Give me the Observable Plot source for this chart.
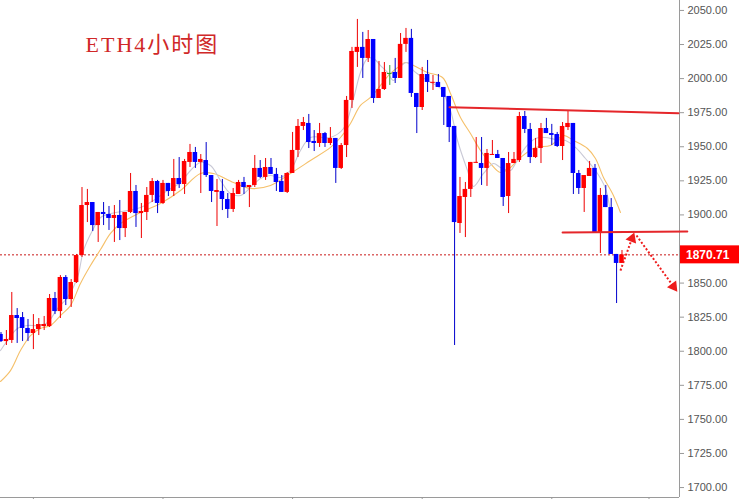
<!DOCTYPE html>
<html><head><meta charset="utf-8">
<script src="https://cdn.jsdelivr.net/npm/d3@7"></script>
<script src="https://cdn.jsdelivr.net/npm/@observablehq/plot@0.6"></script>
<style>
html,body{margin:0;padding:0;background:#fff;}
#chart svg{display:block;}
</style>
</head><body><div id="chart"></div>
<script>
const title = "ETH4小时图";

const open = [1812.3,1807.1,1807.9,1826.2,1824.7,1816.7,1813.0,1815.9,1818.1,1818.1,
1838.7,1829.1,1854.1,1837.9,1850.4,1870.2,1906.9,1909.1,1892.2,1901.8,
1900.3,1897.4,1899.6,1890.0,1901.8,1917.2,1901.0,1901.8,1914.3,1924.5,
1908.4,1923.1,1917.2,1926.7,1922.3,1938.5,1945.8,1938.5,1939.9,1928.9,
1916.5,1917.2,1911.3,1904.0,1915.0,1923.8,1920.1,1921.6,1934.1,1927.5,
1934.8,1929.7,1924.5,1916.5,1930.4,1947.3,1964.9,1967.1,1953.9,1952.4,
1959.7,1952.4,1956.1,1934.1,1950.9,1984.0,2019.2,2022.9,2014.8,2028.7,
1985.4,1992.0,2003.0,2004.5,2000.1,2025.1,2029.5,1989.1,1978.8,2003.0,
1996.6,1997.2,1993.5,1986.9,1964.9,1893.7,1912.8,1918.7,1937.9,1937.7,
1934.1,1943.7,1944.3,1941.4,1913.5,1937.7,1939.9,1972.2,1962.7,1942.1,
1948.7,1963.4,1959.7,1959.0,1950.2,1964.1,1967.1,1930.4,1919.4,1928.2,
1934.1,1887.1,1914.3,1905.4,1871.0,1864.4];

const high = [1813.7,1815.2,1843.1,1831.3,1828.4,1823.3,1826.9,1824.0,1825.5,1841.6,
1843.1,1855.5,1855.5,1852.6,1871.0,1920.1,1918.7,1909.1,1901.8,1909.1,
1906.2,1906.9,1910.6,1901.8,1930.4,1921.6,1908.4,1920.1,1926.7,1925.3,
1925.3,1923.1,1940.7,1942.1,1940.7,1951.7,1949.5,1944.3,1953.1,1928.9,
1926.0,1926.0,1915.7,1919.4,1925.3,1927.5,1921.6,1943.6,1939.9,1941.4,
1941.4,1934.1,1928.9,1931.1,1960.5,1970.0,1971.5,1973.7,1961.9,1967.1,
1960.5,1964.1,1956.1,1952.4,1986.9,2022.9,2043.4,2033.9,2035.3,2028.7,
2012.6,2011.8,2009.6,2014.8,2033.1,2036.8,2036.1,1989.1,2008.2,2013.3,
2002.3,2003.0,1993.5,1986.9,1964.9,1927.5,1923.8,1938.5,1956.8,1956.8,
1948.0,1954.6,1947.3,1941.4,1945.8,1945.8,1975.2,1975.9,1967.1,1956.1,
1967.1,1970.8,1966.4,1960.5,1967.8,1976.6,1967.1,1932.6,1928.9,1939.2,
1937.0,1919.4,1921.6,1912.0,1871.0,1873.9];

const low = [1806.4,1804.2,1805.7,1805.7,1807.1,1807.1,1801.2,1811.5,1815.2,1817.4,
1826.9,1824.0,1833.5,1832.1,1849.7,1868.8,1894.4,1887.8,1879.8,1892.2,
1888.6,1879.8,1881.2,1883.4,1901.0,1890.8,1882.7,1895.9,1909.1,1901.0,
1907.6,1913.5,1913.5,1919.4,1915.0,1934.8,1934.1,1915.7,1927.5,1909.1,
1891.5,1903.2,1897.4,1901.8,1915.0,1915.0,1905.4,1920.1,1926.7,1925.3,
1929.7,1917.2,1916.5,1915.7,1930.4,1942.1,1961.9,1948.7,1946.5,1949.5,
1949.5,1950.9,1923.1,1933.3,1942.1,1978.1,2008.2,2000.1,2011.8,1981.8,
1985.4,1991.3,1995.0,1996.4,2000.1,2019.2,1986.2,1959.7,1976.6,1989.8,
1991.3,1993.5,1965.6,1953.1,1804.2,1886.4,1883.4,1912.8,1937.7,1921.6,
1920.9,1943.7,1941.4,1906.2,1901.0,1937.7,1938.5,1959.7,1937.7,1941.4,
1937.7,1959.7,1950.9,1949.5,1939.9,1961.9,1915.0,1915.0,1901.8,1928.2,
1887.1,1871.7,1905.4,1871.0,1835.0,1864.4];

const close = [1807.1,1808.6,1826.2,1824.0,1816.7,1813.0,1815.9,1819.6,1819.6,1838.7,
1829.1,1854.1,1837.9,1850.4,1870.2,1906.9,1909.1,1892.2,1901.8,1900.3,
1897.4,1899.6,1890.0,1901.8,1917.2,1901.0,1902.5,1914.3,1924.5,1908.4,
1923.1,1917.2,1926.7,1922.3,1939.2,1945.8,1938.5,1940.7,1928.9,1917.2,
1917.9,1911.3,1904.0,1915.7,1923.8,1920.1,1921.6,1934.1,1927.5,1934.8,
1929.7,1923.8,1916.5,1930.4,1947.3,1964.9,1967.8,1953.1,1952.4,1959.7,
1952.4,1956.1,1934.1,1950.9,1984.0,2019.9,2022.9,2014.8,2028.7,1985.4,
1992.0,2004.5,2003.8,2000.1,2025.1,2029.5,1989.1,1978.8,2003.0,1997.2,
1997.2,1993.5,1986.2,1964.1,1894.4,1913.5,1918.7,1938.5,1938.5,1934.1,
1945.1,1944.3,1941.4,1912.8,1937.7,1940.7,1972.2,1962.7,1942.1,1948.7,
1963.4,1959.7,1958.3,1950.2,1964.9,1967.1,1930.4,1919.4,1928.9,1934.1,
1887.1,1914.3,1905.4,1871.0,1864.4,1870.71];

// index of the flat (doji) bar drawn in green in the reference
const greenDoji = 72;

// slow moving average (orange): bar index / price
const maSlowX = [-0.09,1.76,3.61,5.46,7.31,9.17,11.02,12.87,14.72,16.57,18.43,20.28,22.13,25.83,29.54,33.24,36.94,39.35,43.06,46.2,49.91,53.61,57.31,61.02,62.87,64.72,66.57,68.43,70.28,72.13,73.98,74.91,77.13,78.98,81.76,83.24,85.09,86.94,88.8,90.65,92.5,94.35,96.2,98.98,101.76,104.17,106.02,108.61,110.09,111.57,113.24,114.72];
const maSlowY = [1777.8,1785.8,1800.5,1811.5,1816.7,1818.9,1826.2,1833.5,1849.7,1862.9,1874.6,1886.4,1893.7,1901.8,1908.4,1917.9,1930.4,1930.4,1923.8,1919.4,1921.6,1930.4,1939.9,1949.5,1956.8,1967.1,1980.3,1986.2,1995.0,2003.8,2009.6,2011.8,2008.2,2004.5,2000.8,1989.1,1971.5,1959.7,1947.3,1937.7,1931.1,1934.8,1942.1,1949.5,1950.9,1958.3,1954.6,1948.7,1941.4,1927.5,1915.7,1901.8];

// fast moving average (grey)
const maFastX = [-0.09,1.2,3.06,4.91,6.76,8.61,10.46,12.31,14.17,15.28,16.94,18.43,20.28,23.43,25.83,28.24,30.83,33.24,35.09,36.94,38.8,40.65,42.5,44.35,46.2,48.06,49.91,51.76,53.61,55.46,57.31,61.02,63.43,65.28,66.57,67.87,68.98,70.28,71.57,72.69,73.98,75.28,76.39,78.98,81.39,83.24,84.54,86.39,87.5,89.35,91.2,92.5,94.35,95.28,97.13,98.98,100.83,102.69,104.54,106.39,108.24,110.09,111.94,113.24];
const maFastY = [1800.5,1807.9,1816.7,1818.9,1818.9,1821.1,1831.3,1839.4,1854.1,1873.9,1888.6,1898.1,1901.0,1903.2,1905.4,1910.6,1917.9,1923.8,1932.6,1938.5,1936.3,1925.3,1915.7,1914.3,1920.1,1926.7,1928.9,1927.5,1932.6,1947.3,1956.8,1956.8,1963.4,1985.4,2004.5,2014.8,2014.8,2009.6,2004.5,1998.6,2008.9,2011.8,2005.9,1998.6,1992.8,1976.6,1954.6,1932.6,1920.9,1930.4,1937.7,1934.8,1932.6,1937.7,1949.5,1956.1,1956.8,1955.3,1954.6,1949.5,1941.4,1932.6,1919.4,1890.0];

// drawn trend lines (bar index / price)
const resistanceX = [83.06, 125.46];
const resistanceY = [1979.0, 1974.6];
const supportX = [104.0, 127.1];
const supportY = [1887.1, 1887.8];
// dotted arrows: tail -> tip
const arrowX1 = [114.72, 117.69];
const arrowY1 = [1859.2, 1884.9];
const arrowX2 = [116.85, 124.54];
const arrowY2 = [1882.7, 1847.5];
const arrowAngle = [21, 144];

const yTicks = [1700,1725,1750,1775,1800,1825,1850,1900,1925,1950,1975,2000,2025,2050];
const xTicks = [6,30,54,78,102,120];
const xDomain = [-0.09, 125.65];
const yDomain = [1692.7, 2057.3];

const W = 739, H = 499;
const lastClose = close[close.length - 1];

const bars = open.map((o, i) => ({i, open: o, high: high[i], low: low[i], close: close[i]}));
const slow = maSlowX.map((x, k) => ({x, y: maSlowY[k]}));
const fast = maFastX.map((x, k) => ({x, y: maFastY[k]}));
const resistance = resistanceX.map((x, k) => ({x, y: resistanceY[k]}));
const support = supportX.map((x, k) => ({x, y: supportY[k]}));
const arrows = arrowX1.map((x, k) => ({x1: x, y1: arrowY1[k], x2: arrowX2[k], y2: arrowY2[k], a: arrowAngle[k]}));

const bodyColor = d => d.i === greenDoji ? "#2f9e2f" : (d.close >= d.open ? "#ff0000" : "#0000ff");
const wickColor = d => d.i === greenDoji ? "#2f9e2f" : (d.close >= d.open ? "#ee0000" : "#0000cc");
const minH = 0.75;
const bodyY1 = d => Math.abs(d.close - d.open) < minH ? (d.open + d.close) / 2 - minH / 2 : d.open;
const bodyY2 = d => Math.abs(d.close - d.open) < minH ? (d.open + d.close) / 2 + minH / 2 : d.close;

const plot = Plot.plot({
  width: W, height: H,
  marginLeft: 0, marginRight: 60, marginTop: 0, marginBottom: 2,
  x: {domain: xDomain, axis: null},
  y: {domain: yDomain, axis: null},
  style: {background: "#fff", fontFamily: "'Liberation Sans', Arial, sans-serif", color: "#555", overflow: "visible"},
  marks: [
    Plot.ruleX([xDomain[1]], {stroke: "#9a9a9a", strokeWidth: 1}),
    Plot.ruleY([yDomain[0]], {stroke: "#9a9a9a", strokeWidth: 1}),
    Plot.axisY({anchor: "right", ticks: yTicks, tickFormat: d => d.toFixed(2), tickSize: 4, tickPadding: 4, fontSize: 11, stroke: "#9a9a9a"}),
    Plot.axisX({anchor: "bottom", ticks: xTicks, tickFormat: () => "", tickSize: 3, stroke: "#9a9a9a"}),
    Plot.ruleY([lastClose], {stroke: "#c81818", strokeWidth: 1, strokeDasharray: "2,2"}),
    Plot.line(slow, {x: "x", y: "y", stroke: "#f5c06a", strokeWidth: 1.1, curve: "catmull-rom"}),
    Plot.line(fast, {x: "x", y: "y", stroke: "#c9c9d6", strokeWidth: 1.1, curve: "catmull-rom"}),
    Plot.ruleX(bars, {x: "i", y1: "low", y2: "high", stroke: wickColor, strokeWidth: 1}),
    Plot.rect(bars, {x1: d => d.i - 0.42, x2: d => d.i + 0.42, y1: bodyY1, y2: bodyY2, fill: bodyColor}),
    Plot.line(resistance, {x: "x", y: "y", stroke: "#e5262a", strokeWidth: 2}),
    Plot.line(support, {x: "x", y: "y", stroke: "#e5262a", strokeWidth: 2}),
    Plot.link(arrows, {x1: "x1", y1: "y1", x2: "x2", y2: "y2", stroke: "#ee1c1c", strokeWidth: 2, strokeDasharray: "2,2"}),
    Plot.dot(arrows, {x: "x2", y: "y2", symbol: "triangle", r: 4.2, fill: "#ee1c1c", stroke: "none", rotate: "a"}),
    Plot.text([title], {text: d => d, frameAnchor: "top-left", dx: 85, dy: 36, textAnchor: "start", lineAnchor: "top",
      fontSize: 22, fill: "#d02828", fontFamily: "'Liberation Serif', 'Noto Sans CJK SC', serif"})
  ]
});

document.getElementById("chart").appendChild(plot);

const svg = d3.select(plot);
svg.selectAll("text").filter(function() { return this.textContent === title; })
  .attr("letter-spacing", "2px").style("letter-spacing", "2px");
const py = plot.scale("y").apply(lastClose);
const px = plot.scale("x").range[1];
const tag = svg.append("g").attr("text-anchor", "start");
tag.append("rect").attr("x", px + 1).attr("y", py - 9).attr("width", W - px - 1).attr("height", 18).attr("fill", "#ff0000");
tag.append("text").attr("x", px + 7).attr("y", py).attr("dy", "0.35em").attr("text-anchor", "start")
  .attr("fill", "#fff").attr("font-weight", "bold").attr("font-size", 12)
  .attr("font-family", "'Liberation Sans', Arial, sans-serif").text(lastClose.toFixed(2));
</script>
</body></html>
